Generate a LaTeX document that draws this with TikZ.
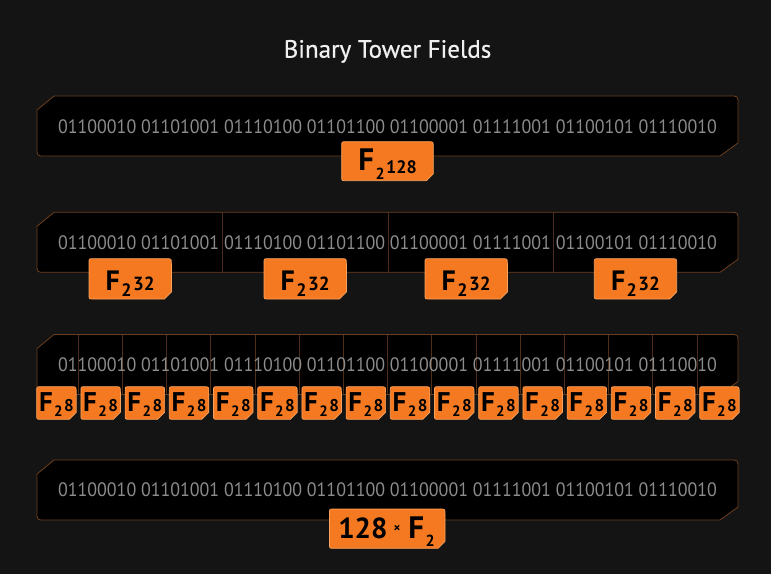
\documentclass[tikz,border=0pt]{standalone}
\usepackage{fontspec}
\setmainfont{PT Sans}
\newfontfamily\titlefont[FakeBold=0.6]{PT Sans}
\usepackage{xcolor}
\usepackage{tikz}
\usetikzlibrary{positioning}
\definecolor{bgdark}{HTML}{141414}
\definecolor{bitgray}{HTML}{8C8C8C}
\definecolor{barrim}{HTML}{6E3F1F}
\definecolor{barsplit}{HTML}{4E2E16}
\definecolor{tagorange}{HTML}{F47920}
\definecolor{tagrim}{HTML}{F9A25E}

\newcommand{\bitrow}{\scalebox{0.924}[1]{01100010 01101001 01110100 01101100 01100001 01111001 01100101 01110010}}
\newcommand{\barshape}[1]{\draw[barrim,fill=black,line width=0.8pt] (37,#1+14) -- (54,#1) -- (730,#1) .. controls (738,#1) .. (738,#1+8) -- (738,#1+47) -- (720,#1+60) -- (45,#1+60) .. controls (37,#1+60) .. (37,#1+52) -- cycle;}
\newcommand{\tagshape}[4]{\draw[tagrim,fill=tagorange,line width=0.7pt] (#1,#2+4) .. controls (#1,#2) .. (#1+4,#2) -- (#3-5,#2) .. controls (#3,#2) .. (#3,#2+5) -- (#3,#4-7) -- (#3-7,#4) -- (#1+4,#4) .. controls (#1,#4) .. (#1,#4-4) -- cycle;}
\newcommand{\fieldtag}[6]{{\fontsize{#1}{#1}\selectfont F}\kern1.5pt\raisebox{-#3}{\fontsize{#2}{#2}\selectfont 2}\kern1.5pt\raisebox{-#5}{\fontsize{#4}{#4}\selectfont #6}}

\begin{document}
\begin{tikzpicture}[x=1pt,y=-1pt,
  title/.style={text=white!94!black,font=\titlefont\fontsize{25pt}{25pt}\selectfont,inner sep=0pt,anchor=base},
  bits/.style={text=bitgray,font=\fontsize{19.4pt}{19.4pt}\selectfont,inner sep=0pt},
  tagtext/.style={text=black,font=\bfseries,inner sep=0pt,anchor=base},
  split/.style={barsplit,line width=0.8pt}]
\useasboundingbox (0,0) rectangle (771,574);
\fill[bgdark] (0,0) rectangle (771,574);
\node[title] (title) at (387.5,57.7) {Binary Tower Fields};

\barshape{96}
\node[bits] (bitsA) at (387.5,126.3) {\bitrow};
\tagshape{341.7}{141.7}{433.3}{180.7}
\node[tagtext] (tagA) at (387.5,170.5) {\fieldtag{31pt}{16pt}{9pt}{18pt}{2.5pt}{128}};

\barshape{212.3}
\foreach \x in {222.3,388,553} \draw[split] (\x,212.3) -- (\x,272.3);
\node[bits] (bitsB) at (387.5,242.3) {\bitrow};
\foreach \x [count=\i] in {89,264,425,594.3} {
  \tagshape{\x}{258.7}{\x+82.4}{299}
  \node[tagtext] (tagB\i) at (\x+41.2,290.5) {\fieldtag{28pt}{18pt}{6pt}{19pt}{0pt}{32}};
}

\barshape{334.5}
\foreach \i in {0,...,14} \draw[split] ({78.2+44.2*\i},334.5) -- ({78.2+44.2*\i},394.5);
\node[bits] (bitsC) at (387.5,364.5) {\bitrow};
\foreach \i in {0,...,15} {
  \pgfmathsetmacro\xa{36.7+44.2*\i}
  \tagshape{\xa}{386.7}{\xa+39.5}{419.3}
  \node[tagtext] (tagC\i) at (\xa+19.75,411.5) {\fieldtag{27pt}{15pt}{5pt}{17pt}{0pt}{8}};
}

\barshape{460}
\node[bits] (bitsD) at (387.5,490) {\bitrow};
\tagshape{329.5}{509}{445}{548.3}
\node[tagtext] (tagD) at (386.5,538.8) {{\fontsize{29pt}{29pt}\selectfont 128}\hspace{6pt}\raisebox{6pt}{\fontsize{13pt}{13pt}\selectfont ×}\hspace{8pt}{\fontsize{31pt}{31pt}\selectfont F}\kern1.5pt\raisebox{-7.4pt}{\fontsize{16pt}{16pt}\selectfont 2}};
\end{tikzpicture}
\end{document}
